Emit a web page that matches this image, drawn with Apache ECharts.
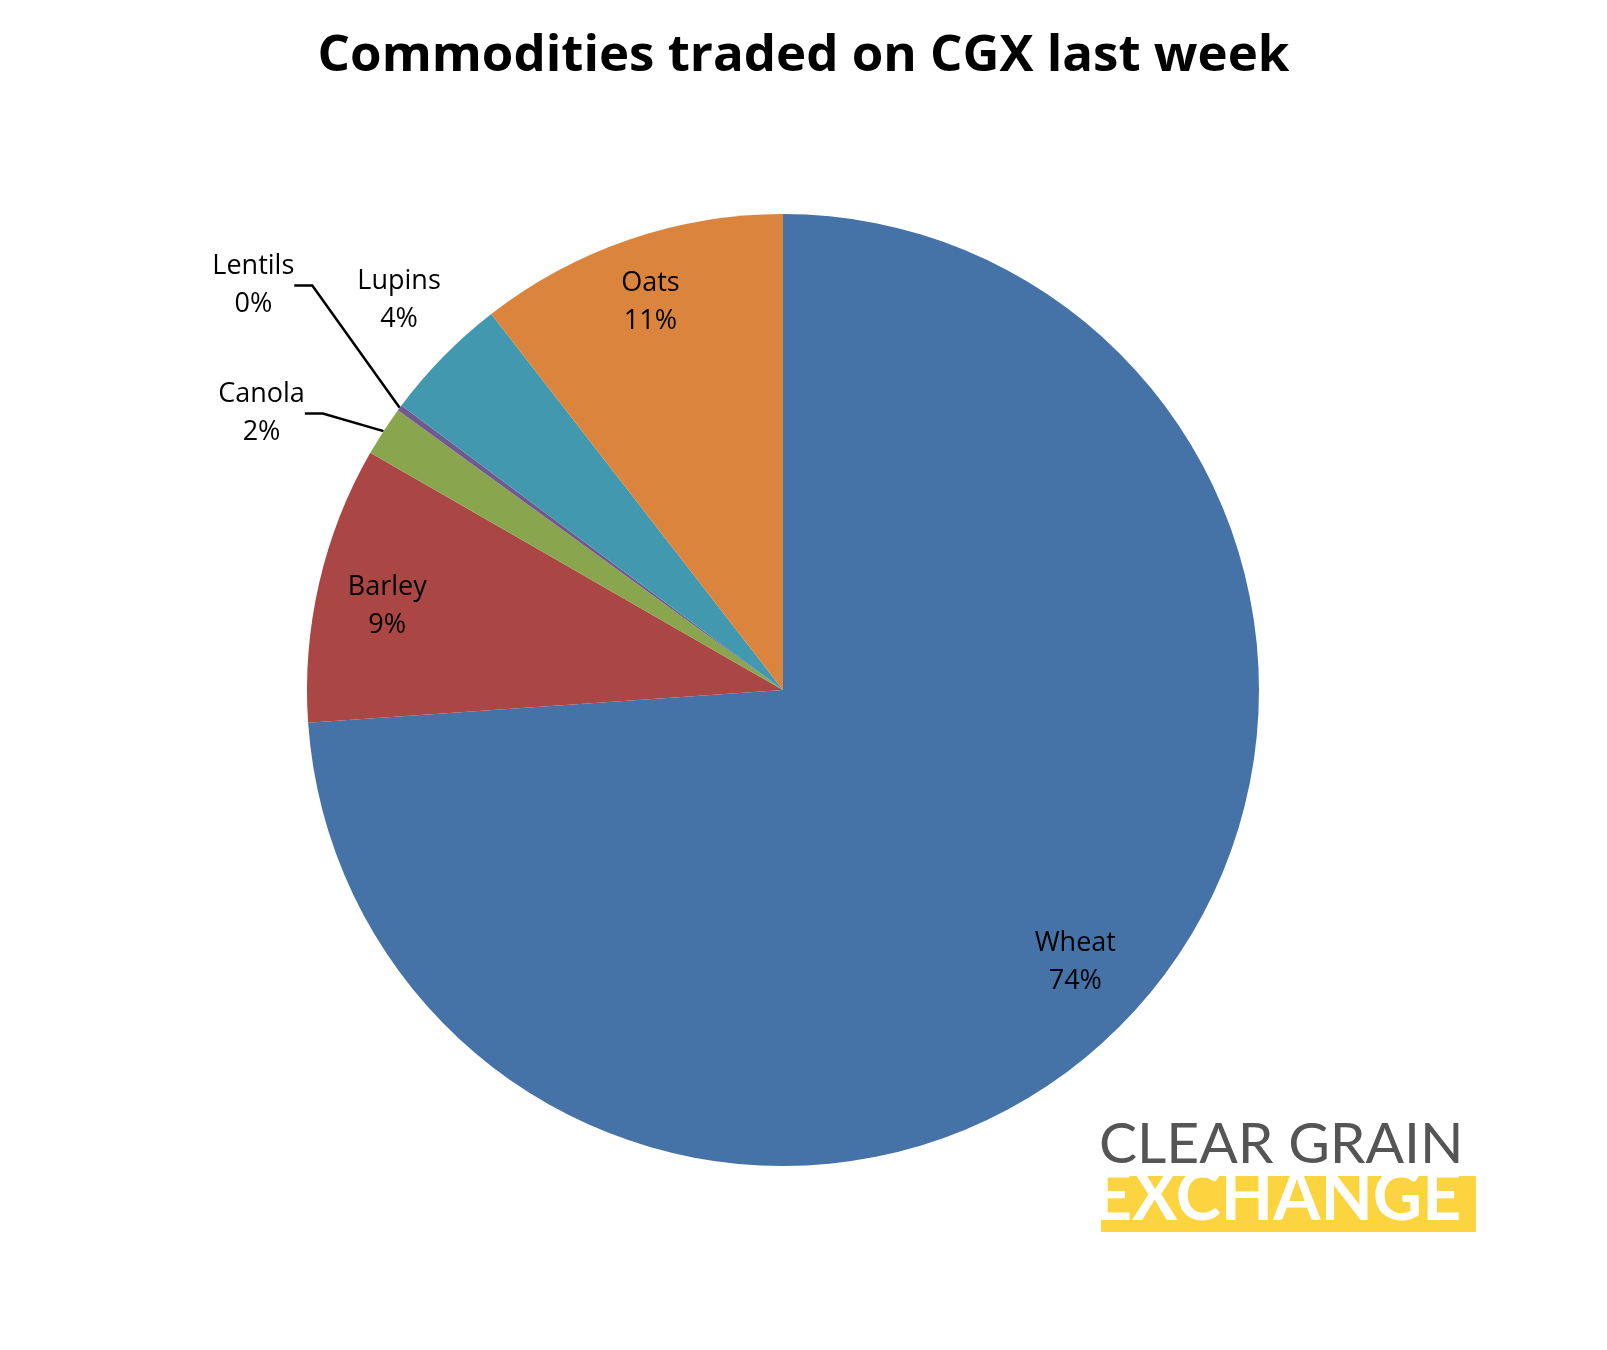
<!DOCTYPE html>
<html>
<head>
<meta charset="UTF-8">
<title>Commodities traded on CGX last week</title>
<script src="https://cdn.jsdelivr.net/npm/echarts@6/dist/echarts.min.js"></script>
<style>
html, body { margin: 0; padding: 0; background: #fff; }
#chart { width: 1607px; height: 1350px; }
</style>
</head>
<body>
<div id="chart"></div>
<script>
// data (shares, %)
var commodities = ['Wheat', 'Barley', 'Canola', 'Lentils', 'Lupins', 'Oats'];
var shares = [73.9, 9.4, 1.7, 0.2, 4.3, 10.5];
var colors = ['#4573A7', '#AA4644', '#89A54E', '#71588F', '#4198AF', '#DB843D'];
// label placement: fraction of the radius, and angle nudge in degrees
var labelRadius = [0.84, 0.85, 1.24, 1.4, 1.15, 0.86];
var labelNudge = [0, -1, -5, 1, 1, 0];
var outsideLabels = ['Canola', 'Lentils'];

var cx = 783, cy = 690, r = 476;
var myChart = echarts.init(document.getElementById('chart'));

var total = 0;
shares.forEach(function (v) { total += v; });
var midAngles = [];
var acc = 0;
for (var j = 0; j < shares.length; j++) {
  midAngles.push((acc + shares[j] / 2) / total * 360);
  acc += shares[j];
}

var data = [];
for (var i = 0; i < commodities.length; i++) {
  var outside = outsideLabels.indexOf(commodities[i]) >= 0;
  data.push({
    name: commodities[i],
    value: shares[i],
    itemStyle: { color: colors[i] },
    label: { position: outside ? 'outside' : 'inside' },
    labelLine: { show: outside }
  });
}

var option = {
  title: {
    text: 'Commodities traded on CGX last week',
    left: 'center',
    top: 26,
    textStyle: { fontFamily: 'Open Sans', fontWeight: 'bold', fontSize: 51, color: '#000' }
  },
  series: [{
    type: 'pie',
    center: [cx, cy],
    radius: [0, r],
    startAngle: 90,
    clockwise: true,
    animation: false,
    label: {
      formatter: function (p) { return p.name + '\n' + Math.round(p.percent) + '%'; },
      fontFamily: 'Open Sans',
      fontSize: 27,
      lineHeight: 38,
      color: '#000',
      align: 'center'
    },
    labelLine: { length: 40, length2: 18, lineStyle: { color: '#000', width: 2.5 } },
    labelLayout: function (p) {
      var i = p.dataIndex;
      var a = (midAngles[i] + labelNudge[i]) * Math.PI / 180;
      var d = labelRadius[i] * r;
      return { x: cx + d * Math.sin(a), y: cy - d * Math.cos(a), align: 'center', verticalAlign: 'middle' };
    },
    data: data
  }],
  graphic: [
    { type: 'text', left: 1099, top: 1116,
      style: { text: 'CLEAR GRAIN', fontFamily: 'Lato', fontSize: 57, fill: '#555', letterSpacing: 3 } },
    { type: 'rect', shape: { x: 1101, y: 1176, width: 375, height: 56 }, style: { fill: '#FCD440' } },
    { type: 'text', left: 1093, top: 1164,
      style: { text: 'EXCHANGE', fontFamily: 'Lato', fontWeight: 'bold', fontSize: 68, fill: '#fff', letterSpacing: 6 } }
  ]
};
myChart.setOption(option);
</script>
</body>
</html>
